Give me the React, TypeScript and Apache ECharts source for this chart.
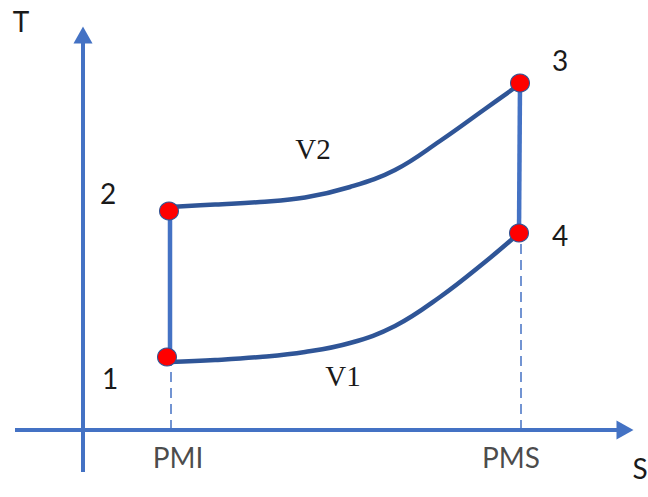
import React, { useEffect, useRef } from "react";
import * as echarts from "echarts";

// Cycle points (S, T) in chart units
const pointNames = ["1", "2", "3", "4"];
const pointS = [167, 169, 520, 519];
const pointT = [140, 286, 414, 264];

// Curve V2 (2 -> 3)
const v2S = [170, 215, 260, 305, 350, 395, 440, 485, 520];
const v2T = [290, 292.5, 295, 299.5, 310, 327, 356, 388, 413];

// Curve V1 (1 -> 4)
const v1S = [170, 215, 260, 305, 350, 395, 440, 485, 517];
const v1T = [135, 137, 140, 145, 154, 171, 200, 235, 262];

// Axis positions
const originS = 83;
const originT = 67;
const sAxisRange = [15, 625];
const tAxisRange = [25, 462];

// Tick labels on S axis
const sTickLabels = ["PMI", "PMS"];
const sTickPos = [171, 521];

const App: React.FC = () => {
  const ref = useRef<HTMLDivElement>(null);
  useEffect(() => {
    if (!ref.current) return;
    const chart = echarts.init(ref.current, undefined, { renderer: "svg" });
    const axisColor = "#4472C4";
    const curveColor = "#2F5597";
    const labelFont = "Lato, 'Open Sans', sans-serif";
    const serif = "'Liberation Serif', 'DejaVu Serif', serif";
    const textColor = "#1a1a1a";
    const pointLabelOffsets = [
      [-57, 21],
      [-61, -18],
      [40, -23],
      [41, 2],
    ];
    chart.setOption({
      animation: false,
      grid: { left: 0, right: 0, top: 0, bottom: 0 },
      xAxis: { type: "value", min: 0, max: 648, show: false },
      yAxis: { type: "value", min: 0, max: 497, show: false },
      series: [
        {
          type: "line",
          data: [],
          silent: true,
          markLine: {
            silent: true,
            symbol: ["none", "triangle"],
            symbolSize: [19, 17],
            label: { show: false },
            lineStyle: { color: axisColor, width: 4, type: "solid", opacity: 1 },
            data: [
              [
                { coord: [sAxisRange[0], originT] },
                { coord: [sAxisRange[1], originT] },
              ],
              [
                { coord: [originS, tAxisRange[0]] },
                { coord: [originS, tAxisRange[1]] },
              ],
            ],
          },
        },
        ...sTickPos.map((s, i) => ({
          type: "line",
          data: [
            [s, originT],
            [s, i === 0 ? pointT[0] : pointT[3]],
          ],
          symbol: "none",
          lineStyle: { color: axisColor, width: 1.5, type: [10, 6] },
        })),
        {
          type: "line",
          data: [
            [pointS[0] + 3, pointT[0]],
            [pointS[1] + 1, pointT[1]],
          ],
          symbol: "none",
          lineStyle: { color: axisColor, width: 4.5 },
        },
        {
          type: "line",
          data: [
            [pointS[3], pointT[3]],
            [pointS[2], pointT[2]],
          ],
          symbol: "none",
          lineStyle: { color: axisColor, width: 4.5 },
        },
        {
          type: "line",
          smooth: 0.4,
          data: v2S.map((s, i) => [s, v2T[i]]),
          symbol: "none",
          lineStyle: { color: curveColor, width: 4.5 },
        },
        {
          type: "line",
          smooth: 0.4,
          data: v1S.map((s, i) => [s, v1T[i]]),
          symbol: "none",
          lineStyle: { color: curveColor, width: 4.5 },
        },
        {
          type: "scatter",
          z: 10,
          symbol: "circle",
          symbolSize: [19, 18],
          itemStyle: { color: "#FF0000", borderColor: curveColor, borderWidth: 1, opacity: 1 },
          data: pointS.map((s, i) => ({
            value: [s, pointT[i]],
            name: pointNames[i],
            label: {
              show: true,
              formatter: pointNames[i],
              position: "inside",
              offset: pointLabelOffsets[i],
              color: textColor,
              fontSize: 28,
              fontFamily: labelFont,
            },
          })),
        },
        {
          type: "scatter",
          symbolSize: 0,
          data: sTickPos.map((s, i) => ({
            value: [s, originT],
            label: {
              show: true,
              formatter: sTickLabels[i],
              position: "inside",
              offset: [i === 0 ? 7 : -10, 27],
              color: textColor,
              fontSize: 28,
              fontFamily: labelFont,
            },
          })),
        },
      ],
      graphic: [
        {
          type: "text",
          x: 21,
          y: 21,
          style: { text: "T", fontSize: 28, fontFamily: labelFont, fill: textColor, align: "center", verticalAlign: "middle" },
        },
        {
          type: "text",
          x: 640,
          y: 468,
          style: { text: "S", fontSize: 28, fontFamily: labelFont, fill: textColor, align: "center", verticalAlign: "middle" },
        },
        {
          type: "text",
          x: 313,
          y: 149,
          style: { text: "V2", fontSize: 29, fontFamily: serif, fill: textColor, align: "center", verticalAlign: "middle" },
        },
        {
          type: "text",
          x: 343,
          y: 376,
          style: { text: "V1", fontSize: 29, fontFamily: serif, fill: textColor, align: "center", verticalAlign: "middle" },
        },
      ],
    });
    return () => chart.dispose();
  }, []);
  return (
    <div
      ref={ref}
      style={{ position: "fixed", left: 0, top: 0, width: 648, height: 497, background: "#fff" }}
    />
  );
};

export default App;
